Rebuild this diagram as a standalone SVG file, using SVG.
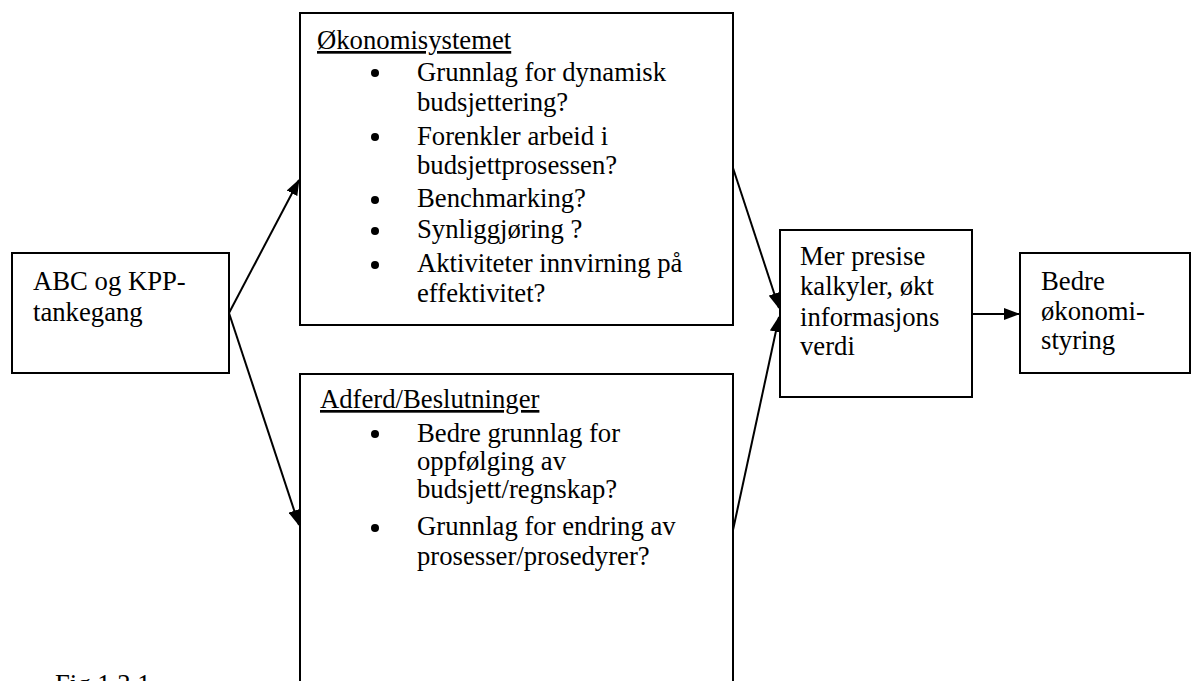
<svg xmlns="http://www.w3.org/2000/svg" width="1201" height="681" viewBox="0 0 1201 681">
<style>
.box{fill:#fff;stroke:#000;stroke-width:2}
text{font-family:"Liberation Serif","Times New Roman",serif;font-size:26.7px;fill:#000}
.ul{text-decoration:underline}
.con{stroke:#000;stroke-width:2;fill:none}
.dot{fill:#000}
</style>
<defs>
<marker id="ah" markerUnits="userSpaceOnUse" markerWidth="16" markerHeight="12" refX="15" refY="6" orient="auto">
<path d="M0,0 L16,6 L0,12 Z" fill="#000"/>
</marker>
</defs>
<rect width="1201" height="681" fill="#fff"/>
<g id="connectors">
<line class="con" x1="229" y1="313" x2="299" y2="180" marker-end="url(#ah)"/>
<line class="con" x1="229" y1="313" x2="299" y2="525" marker-end="url(#ah)"/>
<line class="con" x1="733" y1="168" x2="779" y2="308" marker-end="url(#ah)"/>
<line class="con" x1="733" y1="530" x2="779" y2="317" marker-end="url(#ah)"/>
<line class="con" x1="972" y1="314" x2="1019" y2="314" marker-end="url(#ah)"/>
</g>
<g id="abc">
<rect class="box" x="12" y="253" width="217" height="120"/>
<text x="33" y="290">ABC og KPP-</text>
<text x="33" y="321">tankegang</text>
</g>
<g id="okonomi">
<rect class="box" x="300" y="13" width="433" height="312"/>
<text class="ul" x="317" y="49">Økonomisystemet</text>
<circle class="dot" cx="375" cy="73" r="4"/>
<text x="417" y="81">Grunnlag for dynamisk</text>
<text x="417" y="111">budsjettering?</text>
<circle class="dot" cx="375" cy="137" r="4"/>
<text x="417" y="145">Forenkler arbeid i</text>
<text x="417" y="174">budsjettprosessen?</text>
<circle class="dot" cx="375" cy="200" r="4"/>
<text x="417" y="207">Benchmarking?</text>
<circle class="dot" cx="375" cy="231" r="4"/>
<text x="417" y="238">Synliggjøring ?</text>
<circle class="dot" cx="375" cy="265" r="4"/>
<text x="417" y="272">Aktiviteter innvirning på</text>
<text x="417" y="302">effektivitet?</text>
</g>
<g id="adferd">
<rect class="box" x="300" y="374" width="433" height="330"/>
<text class="ul" x="320" y="408">Adferd/Beslutninger</text>
<circle class="dot" cx="375" cy="434" r="4"/>
<text x="417" y="442">Bedre grunnlag for</text>
<text x="417" y="470">oppfølging av</text>
<text x="417" y="498">budsjett/regnskap?</text>
<circle class="dot" cx="375" cy="528" r="4"/>
<text x="417" y="535">Grunnlag for endring av</text>
<text x="417" y="565">prosesser/prosedyrer?</text>
</g>
<g id="mer">
<rect class="box" x="780" y="230" width="192" height="167"/>
<text x="800" y="265">Mer presise</text>
<text x="800" y="295">kalkyler, økt</text>
<text x="800" y="326">informasjons</text>
<text x="800" y="355">verdi</text>
</g>
<g id="bedre">
<rect class="box" x="1020" y="253" width="170" height="120"/>
<text x="1041" y="290">Bedre</text>
<text x="1041" y="320">økonomi-</text>
<text x="1041" y="349">styring</text>
</g>
<text x="55" y="693">Fig 1.3.1</text>
</svg>
